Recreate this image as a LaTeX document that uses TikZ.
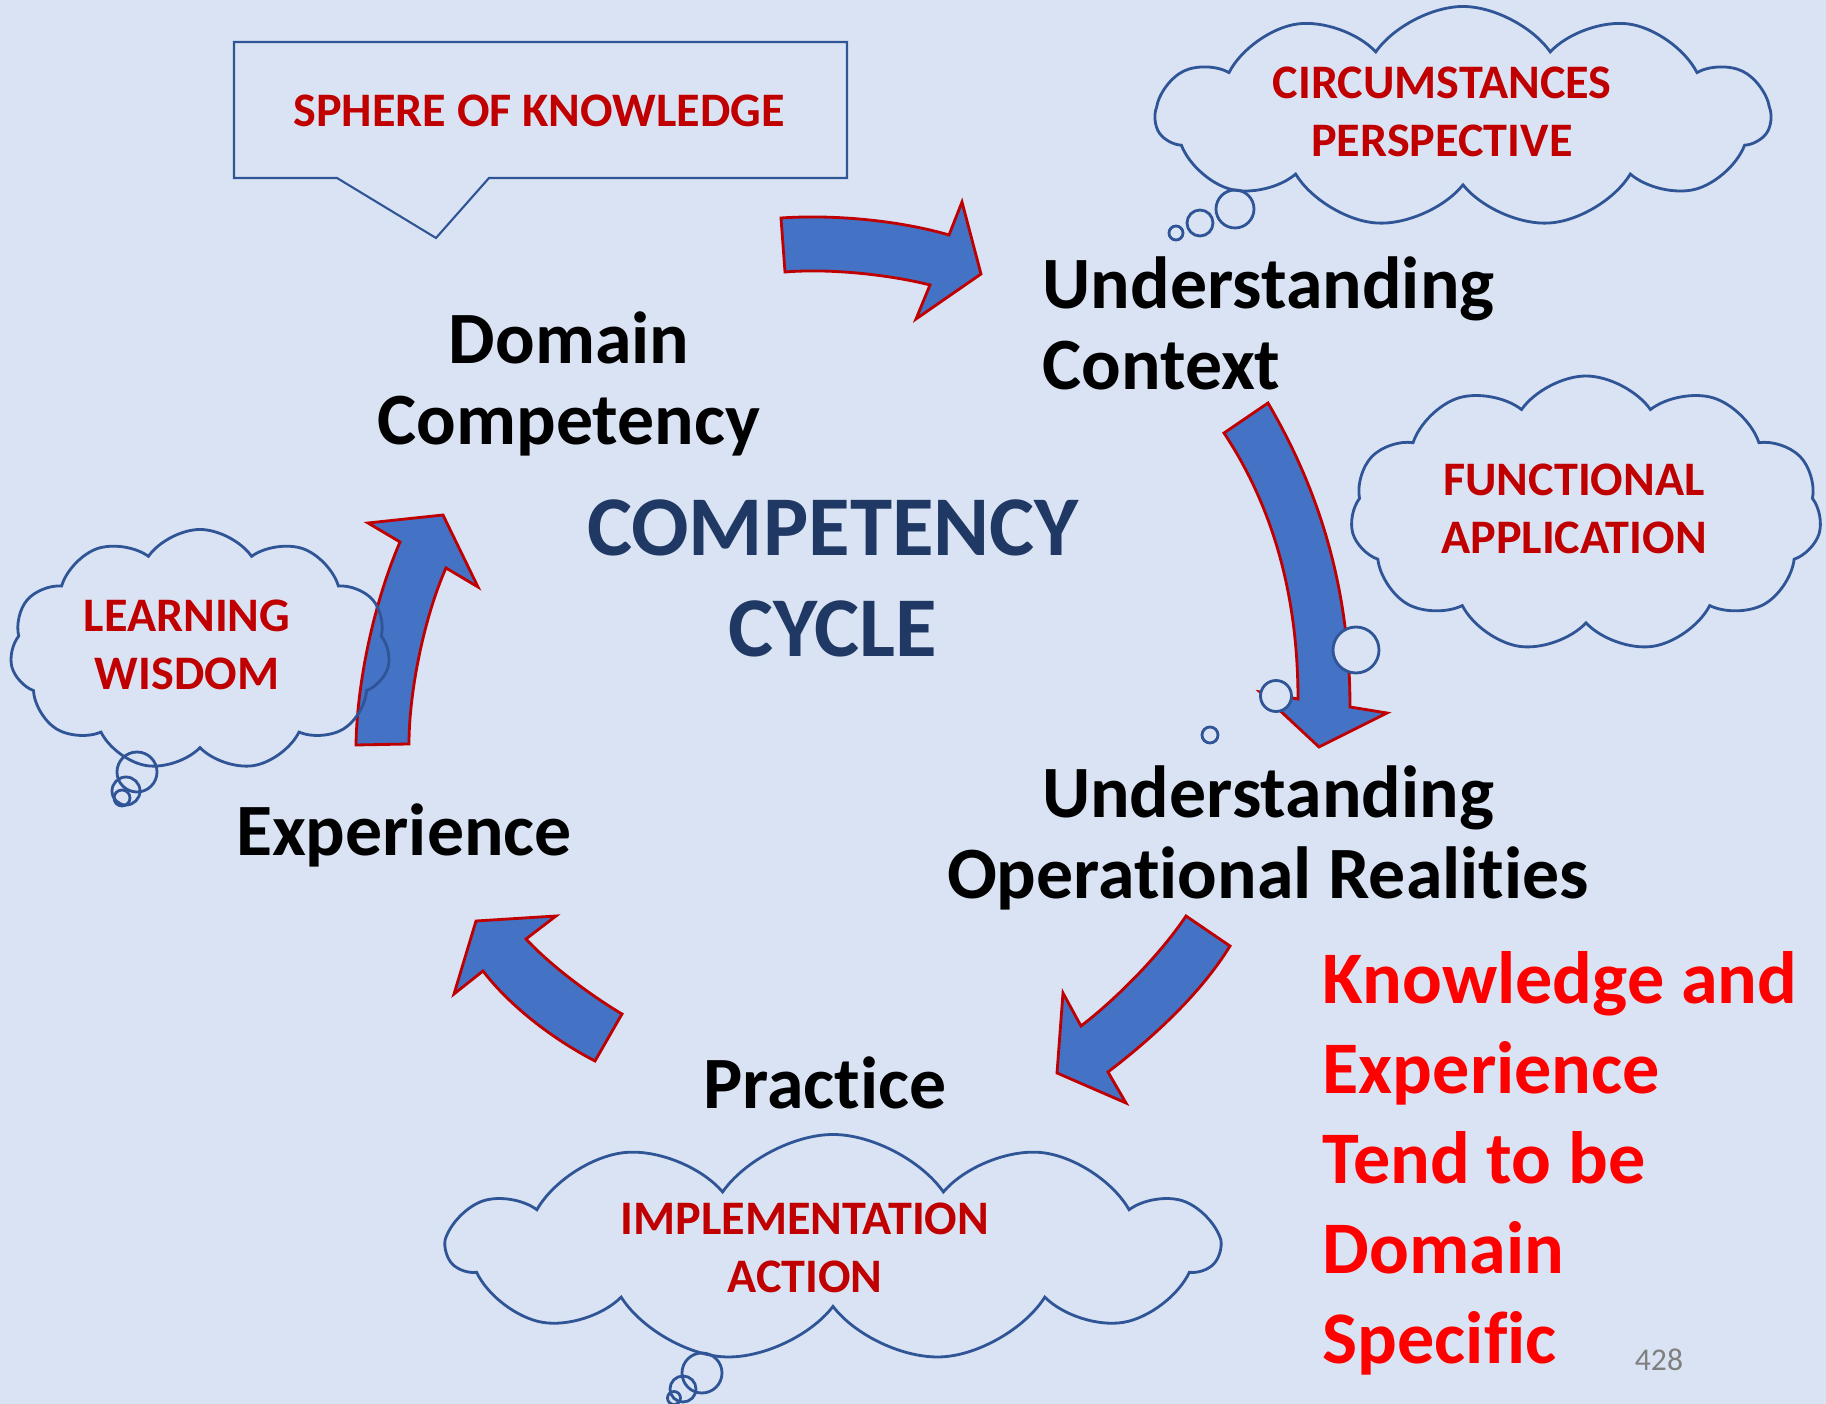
\documentclass[tikz,border=0pt]{standalone}
\usepackage{fontspec}
\setmainfont{Carlito}[Ligatures={NoCommon,NoRequired,NoContextual,NoRare},Contextuals=NoAlternate]
\usetikzlibrary{shapes.symbols}

\definecolor{slidebg}{HTML}{DAE3F3}
\definecolor{arrowblue}{HTML}{4472C4}
\definecolor{arrowred}{HTML}{C00000}
\definecolor{cloudline}{HTML}{2F5597}
\definecolor{darkred}{HTML}{C00000}
\definecolor{navy}{HTML}{1F3864}
\definecolor{pagegray}{HTML}{7F7F7F}

\begin{document}
\begin{tikzpicture}[x=1cm,y=1cm]
\tikzset{
  cyclearrow/.style={fill=arrowblue,draw=arrowred,line width=0.8pt,line join=miter},
  thought/.style={cloud,cloud puffs=11,cloud puff arc=110,cloud ignores aspect,draw=cloudline,line width=0.8pt,inner sep=0pt},
  bubble/.style={circle,draw=cloudline,line width=0.8pt,inner sep=0pt},
  stage/.style={font=\bfseries\fontsize{21}{23}\selectfont,align=center,inner sep=0pt},
  thoughttext/.style={text=darkred,font=\bfseries\fontsize{13.7}{16.4}\selectfont,align=center,inner sep=0pt}
}
\fill[slidebg] (0,0) rectangle (18.26,-14.04);
\useasboundingbox (0,0) rectangle (18.26,-14.04);

% callout
\draw[cloudline,line width=0.6pt,fill=slidebg] (2.34,-0.42) -- (8.47,-0.42) -- (8.47,-1.78) -- (4.89,-1.78) -- (4.36,-2.38) -- (3.37,-1.78) -- (2.34,-1.78) -- cycle;
\node[thoughttext] (t_sphere) at (5.39,-1.11) {SPHERE OF KNOWLEDGE};

% cycle arrows
\draw[cyclearrow] (7.81,-2.18) .. controls (8.40,-2.14) and (9.05,-2.22) .. (9.49,-2.35) -- (9.62,-2.02) -- (9.81,-2.74) -- (9.16,-3.19) -- (9.30,-2.85) .. controls (8.95,-2.76) and (8.35,-2.68) .. (7.85,-2.72) -- cycle;
\draw[cyclearrow] (12.68,-4.03) .. controls (13.25,-5.00) and (13.50,-6.00) .. (13.50,-7.07) -- (13.87,-7.13) -- (13.19,-7.47) -- (12.60,-6.92) -- (12.98,-6.99) .. controls (12.98,-6.00) and (12.75,-5.10) .. (12.24,-4.33) -- cycle;
\draw[cyclearrow] (11.86,-9.16) -- (12.30,-9.46) .. controls (12.00,-9.95) and (11.50,-10.40) .. (11.08,-10.72) -- (11.26,-11.03) -- (10.57,-10.73) -- (10.63,-9.93) -- (10.81,-10.26) .. controls (11.15,-10.00) and (11.60,-9.55) .. cycle;
\draw[cyclearrow] (5.95,-10.61) -- (6.22,-10.14) .. controls (5.90,-9.95) and (5.50,-9.65) .. (5.26,-9.39) -- (5.56,-9.16) -- (4.76,-9.21) -- (4.54,-9.94) -- (4.83,-9.71) .. controls (5.05,-10.00) and (5.45,-10.35) .. cycle;
\draw[cyclearrow] (3.56,-7.45) -- (4.09,-7.44) .. controls (4.09,-6.90) and (4.25,-6.15) .. (4.46,-5.68) -- (4.78,-5.87) -- (4.43,-5.15) -- (3.68,-5.23) -- (4.00,-5.42) .. controls (3.75,-6.00) and (3.57,-6.80) .. cycle;

% thoughts
\node[thought,minimum width=6.14cm,minimum height=2.21cm] (cloud_ctx) at (14.63,-1.17) {};
\node[thoughttext] (t_ctx) at (14.42,-1.12) {CIRCUMSTANCES\\PERSPECTIVE};
\node[bubble,minimum size=0.38cm] (b_ctx1) at (12.35,-2.09) {};
\node[bubble,minimum size=0.26cm] (b_ctx2) at (12.00,-2.23) {};
\node[bubble,minimum size=0.14cm] (b_ctx3) at (11.76,-2.33) {};

\node[thought,minimum width=4.71cm,minimum height=2.76cm] (cloud_fun) at (15.86,-5.14) {};
\node[thoughttext] (t_fun) at (15.74,-5.09) {FUNCTIONAL\\APPLICATION};
\node[bubble,fill=slidebg,minimum size=0.46cm] (b_fun1) at (13.56,-6.50) {};
\node[bubble,fill=slidebg,minimum size=0.31cm] (b_fun2) at (12.76,-6.96) {};
\node[bubble,fill=slidebg,minimum size=0.16cm] (b_fun3) at (12.10,-7.35) {};

\node[thought,minimum width=3.80cm,minimum height=2.41cm] (cloud_learn) at (2.00,-6.50) {};
\node[thoughttext] (t_learn) at (1.87,-6.45) {LEARNING\\WISDOM};
\node[bubble,minimum size=0.40cm] (b_learn1) at (1.37,-7.72) {};
\node[bubble,minimum size=0.28cm] (b_learn2) at (1.26,-7.91) {};
\node[bubble,minimum size=0.16cm] (b_learn3) at (1.22,-7.98) {};

\node[thought,minimum width=7.69cm,minimum height=2.27cm] (cloud_impl) at (8.33,-12.48) {};
\node[thoughttext] (t_impl) at (8.05,-12.48) {IMPLEMENTATION\\ACTION};
\node[bubble,minimum size=0.40cm] (b_impl1) at (7.02,-13.73) {};
\node[bubble,minimum size=0.26cm] (b_impl2) at (6.83,-13.89) {};
\node[bubble,minimum size=0.13cm] (b_impl3) at (6.74,-13.98) {};

% stages
\node[stage] (domain) at (5.69,-3.84) {Domain\\Competency};
\node[stage,align=left,anchor=west] (context) at (10.42,-3.23) {Understanding\\Context};
\node[stage,text=navy,font=\bfseries\fontsize{24.2}{28.7}\selectfont] (title) at (8.33,-5.78) {COMPETENCY\\CYCLE};
\node[stage] (realities) at (12.68,-8.38) {Understanding\\Operat{}ional Realit{}ies};
\node[stage] (experience) at (4.04,-8.35) {Experience};
\node[stage] (practice) at (8.25,-10.83) {Pract{}ice};

\node[stage,align=left,anchor=west,text=red,font=\bfseries\fontsize{21.1}{25.6}\selectfont] (claim) at (13.22,-11.63) {Knowledge and\\Experience\\Tend to be\\Domain\\Specif{}ic};
\node[text=pagegray,font=\fontsize{9}{10}\selectfont,inner sep=0pt] (pageno) at (16.59,-13.60) {428};
\end{tikzpicture}
\end{document}
